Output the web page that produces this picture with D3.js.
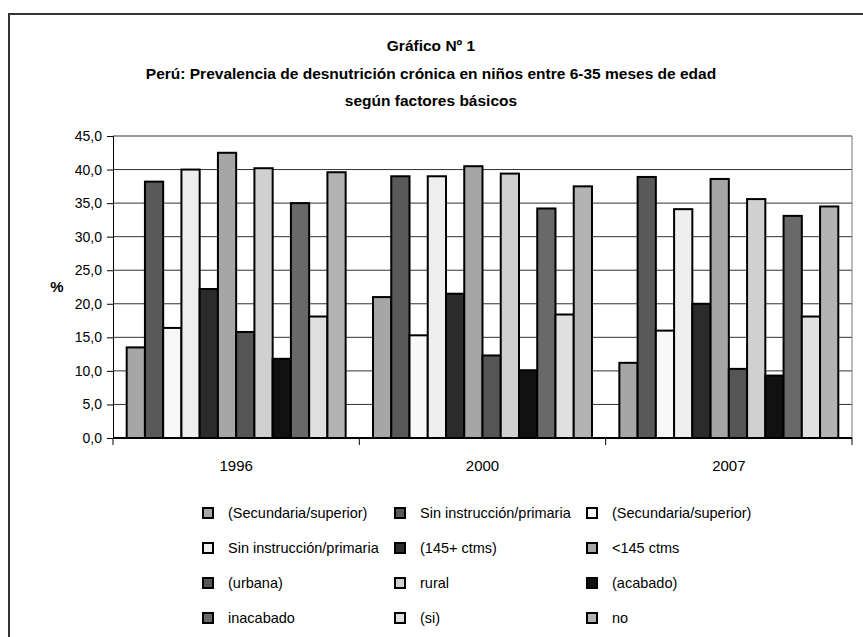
<!DOCTYPE html>
<html>
<head>
<meta charset="utf-8">
<script src="https://cdn.jsdelivr.net/npm/d3@7"></script>
<style>
  body { margin: 0; background: #fff; }
  text { font-family: "Liberation Sans Narrow", "Arial Narrow", "Liberation Sans", sans-serif; fill: #000; }
</style>
</head>
<body>
<div id="chart"></div>
<script>
const years = ['1996', '2000', '2007'];
const seriesNames = [
  '(Secundaria/superior)', 'Sin instrucción/primaria', '(Secundaria/superior)',
  'Sin instrucción/primaria', '(145+ ctms)', '<145 ctms',
  '(urbana)', 'rural', '(acabado)',
  'inacabado', '(si)', 'no'
];
const seriesColors = [
  '#a6a6a6', '#595959', '#f8f8f8',
  '#eeeeee', '#2b2b2b', '#a6a6a6',
  '#555555', '#d0d0d0', '#111111',
  '#696969', '#e0e0e0', '#b3b3b3'
];
// one array per year, in series order
const values1996 = [13.5, 38.2, 16.4, 40.0, 22.2, 42.5, 15.8, 40.2, 11.8, 35.0, 18.1, 39.6];
const values2000 = [21.0, 39.0, 15.3, 39.0, 21.5, 40.5, 12.3, 39.4, 10.1, 34.2, 18.4, 37.5];
const values2007 = [11.2, 38.9, 16.0, 34.1, 20.0, 38.6, 10.3, 35.6, 9.3, 33.1, 18.1, 34.5];
const yTicks = [0, 5, 10, 15, 20, 25, 30, 35, 40, 45];
const titleLines = [
  'Gráfico Nº 1',
  'Perú: Prevalencia de desnutrición crónica en niños entre 6-35 meses de edad',
  'según factores básicos'
];

const width = 863, height = 637;
const margin = { top: 136, right: 11, bottom: 199, left: 113 };
const plotW = width - margin.left - margin.right;
const plotH = height - margin.top - margin.bottom;

const data = [values1996, values2000, values2007];

const svg = d3.select('#chart').append('svg')
  .attr('width', width)
  .attr('height', height);

// outer frame
svg.append('rect')
  .attr('x', 9).attr('y', 14)
  .attr('width', width).attr('height', height)
  .attr('fill', 'none')
  .attr('stroke', '#333')
  .attr('stroke-width', 2);

// title
svg.append('g').selectAll('text')
  .data(titleLines)
  .join('text')
  .attr('x', 431)
  .attr('y', (d, i) => 51 + i * 27.5)
  .attr('text-anchor', 'middle')
  .style('font-weight', 'bold')
  .style('font-size', '15.5px')
  .text(d => d);

const g = svg.append('g')
  .attr('transform', 'translate(' + margin.left + ',' + margin.top + ')');

const x0 = d3.scaleBand().domain(years).range([0, plotW]).padding(0);
// Excel style gap width 150%: 0.75 bar width on each side
const x1 = d3.scaleBand().domain(d3.range(seriesNames.length))
  .range([0, x0.bandwidth()]).paddingInner(0).paddingOuter(0.75);
const y = d3.scaleLinear().domain([0, 45]).range([plotH, 0]);

// gridlines
g.append('g')
  .selectAll('line')
  .data(yTicks.slice(1))
  .join('line')
  .attr('x1', 0).attr('x2', plotW)
  .attr('y1', d => y(d)).attr('y2', d => y(d))
  .attr('stroke', '#333')
  .attr('stroke-width', 1);

// right border of plot area
g.append('line')
  .attr('x1', plotW).attr('x2', plotW)
  .attr('y1', 0).attr('y2', plotH)
  .attr('stroke', '#777')
  .attr('stroke-width', 1);

// bars
const groups = g.append('g').selectAll('g')
  .data(data)
  .join('g')
  .attr('transform', (d, i) => 'translate(' + x0(years[i]) + ',0)');

groups.selectAll('rect')
  .data(d => d)
  .join('rect')
  .attr('x', (d, i) => x1(i))
  .attr('y', d => y(d))
  .attr('width', x1.bandwidth())
  .attr('height', d => plotH - y(d))
  .attr('fill', (d, i) => seriesColors[i])
  .attr('stroke', '#000')
  .attr('stroke-width', 2);

// y axis
const yAxis = g.append('g')
  .call(d3.axisLeft(y).tickValues(yTicks).tickSize(6).tickPadding(5)
    .tickFormat(d => d3.format('.1f')(d).replace('.', ',')));
yAxis.select('.domain').attr('stroke', '#000');
yAxis.selectAll('.tick line').attr('stroke', '#000');
yAxis.selectAll('.tick text')
  .style('font-size', '14px')
  .style('font-family', '"Liberation Sans Narrow", "Arial Narrow", "Liberation Sans", sans-serif');

// x axis
const xAxis = g.append('g')
  .attr('transform', 'translate(0,' + plotH + ')');
xAxis.append('line')
  .attr('x1', 0).attr('x2', plotW)
  .attr('stroke', '#000').attr('stroke-width', 2);
xAxis.selectAll('.cat-tick')
  .data(d3.range(years.length + 1))
  .join('line')
  .attr('class', 'cat-tick')
  .attr('x1', i => i * x0.step()).attr('x2', i => i * x0.step())
  .attr('y1', 0).attr('y2', 7)
  .attr('stroke', '#000');
xAxis.selectAll('.cat-label')
  .data(years)
  .join('text')
  .attr('class', 'cat-label')
  .attr('x', d => x0(d) + x0.bandwidth() / 2)
  .attr('y', 33)
  .attr('text-anchor', 'middle')
  .style('font-size', '15px')
  .text(d => d);

// y title
svg.append('text')
  .attr('x', 57).attr('y', 292)
  .attr('text-anchor', 'middle')
  .style('font-weight', 'bold')
  .style('font-size', '15px')
  .text('%');

// legend, 3 columns, row-major
const legend = svg.append('g').selectAll('g')
  .data(seriesNames)
  .join('g')
  .attr('transform', (d, i) => 'translate(' + (203 + (i % 3) * 192) + ',' + (513 + Math.floor(i / 3) * 35) + ')');

legend.append('rect')
  .attr('x', 0).attr('y', -5)
  .attr('width', 10).attr('height', 10)
  .attr('fill', (d, i) => seriesColors[i])
  .attr('stroke', '#000')
  .attr('stroke-width', 2);

legend.append('text')
  .attr('x', 25)
  .attr('y', 5)
  .style('font-size', '14.5px')
  .text(d => d);
</script>
</body>
</html>
